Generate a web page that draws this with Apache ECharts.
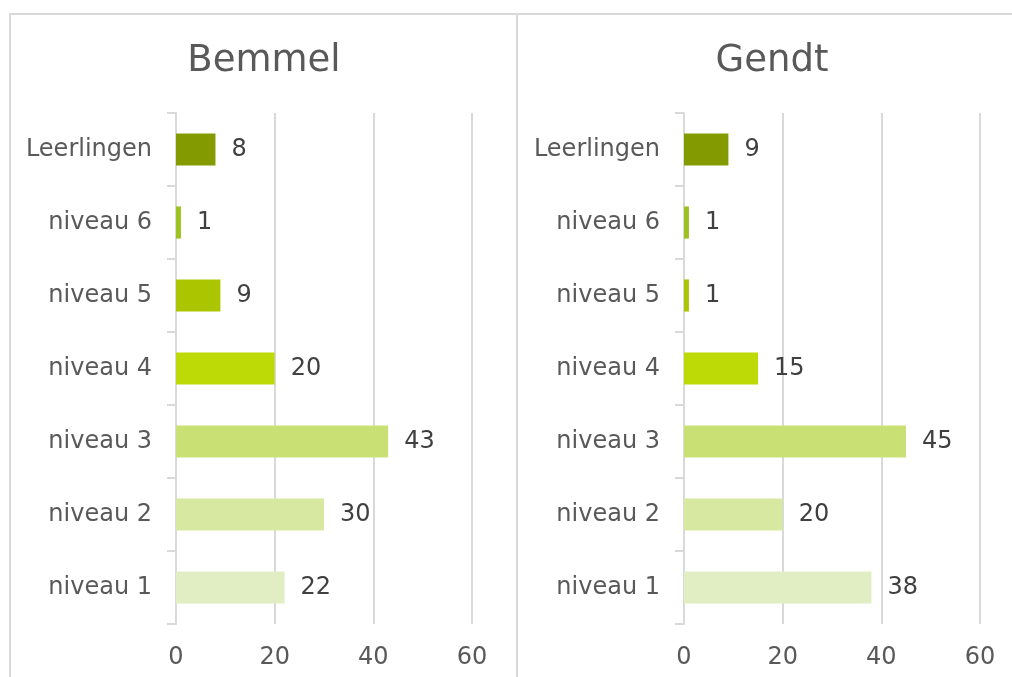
<!DOCTYPE html>
<html>
<head>
<meta charset="utf-8">
<script src="https://cdn.jsdelivr.net/npm/echarts@6/dist/echarts.min.js"></script>
<style>
html,body{margin:0;padding:0;background:#fff;}
#chart{width:1012px;height:677px;}
</style>
</head>
<body>
<div id="chart"></div>
<script>
const categories = ['Leerlingen', 'niveau 6', 'niveau 5', 'niveau 4', 'niveau 3', 'niveau 2', 'niveau 1'];
const bemmelValues = [8, 1, 9, 20, 43, 30, 22];
const gendtValues = [9, 1, 1, 15, 45, 20, 38];
const panelTitles = ['Bemmel', 'Gendt'];
const barColors = ['#849B00', '#9DC11E', '#ABC600', '#BEDA06', '#C9E074', '#D7E8A0', '#E1EDC3'];

const FONT = '"DejaVu Sans", Verdana, sans-serif';
const GRAY = '#595959';
const LINE = '#d9d9d9';

const grids = [
  {left: 176, top: 113, width: 296, height: 511},
  {left: 684, top: 113, width: 296, height: 511}
];

function xAxis(i) {
  return {
    type: 'value', gridIndex: i, min: 0, max: 60, interval: 20,
    axisLine: {show: false}, axisTick: {show: false},
    splitLine: {show: true, lineStyle: {color: LINE, width: 2}},
    axisLabel: {fontSize: 24, color: GRAY, fontFamily: FONT, margin: 22}
  };
}
function yAxis(i) {
  return {
    type: 'category', gridIndex: i, data: categories, inverse: true,
    axisLine: {show: true, lineStyle: {color: LINE, width: 2}},
    axisTick: {show: true, length: 9, lineStyle: {color: LINE, width: 2}},
    axisLabel: {fontSize: 24, color: GRAY, fontFamily: FONT, margin: 24, padding: [4, 0, 0, 0]}
  };
}
function series(i, vals) {
  return {
    type: 'bar', xAxisIndex: i, yAxisIndex: i,
    data: vals.map((v, k) => ({value: v, itemStyle: {color: barColors[k]}})),
    barCategoryGap: '56%',
    label: {show: true, position: 'right', distance: 16, fontSize: 24, color: '#404040', fontFamily: FONT, padding: [4, 0, 0, 0]},
    silent: true
  };
}

const chart = echarts.init(document.getElementById('chart'));
chart.setOption({
  animation: false,
  backgroundColor: '#fff',
  title: [
    {text: panelTitles[0], left: 259, top: 38, textAlign: 'center',
     textStyle: {fontSize: 37, fontWeight: 'normal', color: GRAY, fontFamily: FONT}},
    {text: panelTitles[1], left: 767, top: 38, textAlign: 'center',
     textStyle: {fontSize: 37, fontWeight: 'normal', color: GRAY, fontFamily: FONT}}
  ],
  graphic: [
    {type: 'rect', shape: {x: 10, y: 14, width: 507, height: 700}, style: {fill: 'none', stroke: LINE, lineWidth: 2}, silent: true},
    {type: 'rect', shape: {x: 517, y: 14, width: 520, height: 700}, style: {fill: 'none', stroke: LINE, lineWidth: 2}, silent: true}
  ],
  grid: grids,
  xAxis: [xAxis(0), xAxis(1)],
  yAxis: [yAxis(0), yAxis(1)],
  series: [series(0, bemmelValues), series(1, gendtValues)]
});
</script>
</body>
</html>
